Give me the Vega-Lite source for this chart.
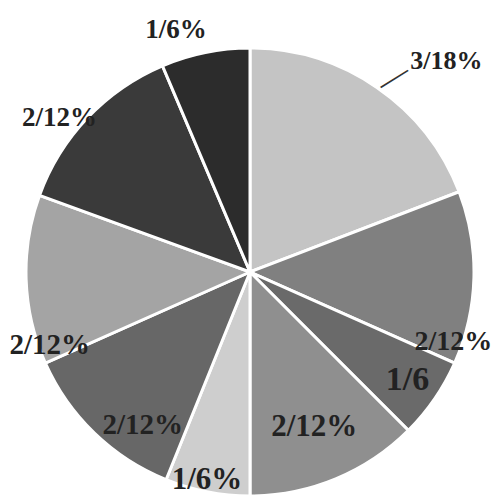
{
  "$schema": "https://vega.github.io/schema/vega-lite/v6.json",
  "width": 500,
  "height": 544,
  "autosize": {"type": "none"},
  "padding": 0,
  "background": "white",
  "config": {"view": {"stroke": null}},
  "data": {
    "values": [
      {"id": "a", "value": 69, "label": "3/18%"},
      {"id": "b", "value": 45, "label": "2/12%"},
      {"id": "c", "value": 21, "label": "1/6"},
      {"id": "d", "value": 45, "label": "2/12%"},
      {"id": "e", "value": 22, "label": "1/6%"},
      {"id": "f", "value": 44, "label": "2/12%"},
      {"id": "g", "value": 44, "label": "2/12%"},
      {"id": "h", "value": 47, "label": "2/12%"},
      {"id": "i", "value": 23, "label": "1/6%"}
    ]
  },
  "encoding": {
    "theta": {"field": "value", "type": "quantitative", "stack": true},
    "order": {"field": "id", "type": "nominal"}
  },
  "layer": [
    {
      "mark": {"type": "arc", "outerRadius": 224, "stroke": "white", "strokeWidth": 3},
      "encoding": {
        "color": {
          "field": "id",
          "type": "nominal",
          "legend": null,
          "scale": {
            "domain": ["a", "b", "c", "d", "e", "f", "g", "h", "i"],
            "range": ["#c4c4c4", "#808080", "#6a6a6a", "#8f8f8f", "#cecece", "#676767", "#a4a4a4", "#3a3a3a", "#2c2c2c"]
          }
        }
      }
    },
    {
      "mark": {"type": "text", "radius": 288, "thetaOffset": 0.148, "font": "Liberation Serif", "fontWeight": "bold", "fontSize": 26, "fill": "#222222"},
      "encoding": {"text": {"condition": {"test": "datum.id === 'a'", "field": "label"}, "value": ""}}
    },
    {
      "mark": {"type": "text", "radius": 242, "thetaOffset": 0.03, "angle": -32, "font": "Liberation Serif", "fontSize": 32, "fill": "#333333"},
      "encoding": {"text": {"condition": {"test": "datum.id === 'a'", "value": "—"}, "value": ""}}
    },
    {
      "mark": {"type": "text", "radius": 215, "thetaOffset": 0.305, "font": "Liberation Serif", "fontWeight": "bold", "fontSize": 28, "fill": "#222222"},
      "encoding": {"text": {"condition": {"test": "datum.id === 'b'", "field": "label"}, "value": ""}}
    },
    {
      "mark": {"type": "text", "radius": 191, "thetaOffset": 0, "font": "Liberation Serif", "fontWeight": "bold", "fontSize": 34, "fill": "#222222"},
      "encoding": {"text": {"condition": {"test": "datum.id === 'c'", "field": "label"}, "value": ""}}
    },
    {
      "mark": {"type": "text", "radius": 168, "thetaOffset": 0, "font": "Liberation Serif", "fontWeight": "bold", "fontSize": 31, "fill": "#222222"},
      "encoding": {"text": {"condition": {"test": "datum.id === 'd'", "field": "label"}, "value": ""}}
    },
    {
      "mark": {"type": "text", "radius": 212, "thetaOffset": 0.012, "font": "Liberation Serif", "fontWeight": "bold", "fontSize": 31, "fill": "#222222"},
      "encoding": {"text": {"condition": {"test": "datum.id === 'e'", "field": "label"}, "value": ""}}
    },
    {
      "mark": {"type": "text", "radius": 187, "thetaOffset": -0.157, "font": "Liberation Serif", "fontWeight": "bold", "fontSize": 29, "fill": "#222222"},
      "encoding": {"text": {"condition": {"test": "datum.id === 'f'", "field": "label"}, "value": ""}}
    },
    {
      "mark": {"type": "text", "radius": 213, "thetaOffset": -0.314, "font": "Liberation Serif", "fontWeight": "bold", "fontSize": 29, "fill": "#222222"},
      "encoding": {"text": {"condition": {"test": "datum.id === 'g'", "field": "label"}, "value": ""}}
    },
    {
      "mark": {"type": "text", "radius": 245, "thetaOffset": -0.079, "font": "Liberation Serif", "fontWeight": "bold", "fontSize": 27, "fill": "#222222"},
      "encoding": {"text": {"condition": {"test": "datum.id === 'h'", "field": "label"}, "value": ""}}
    },
    {
      "mark": {"type": "text", "radius": 253, "thetaOffset": -0.096, "font": "Liberation Serif", "fontWeight": "bold", "fontSize": 27, "fill": "#222222"},
      "encoding": {"text": {"condition": {"test": "datum.id === 'i'", "field": "label"}, "value": ""}}
    }
  ]
}
